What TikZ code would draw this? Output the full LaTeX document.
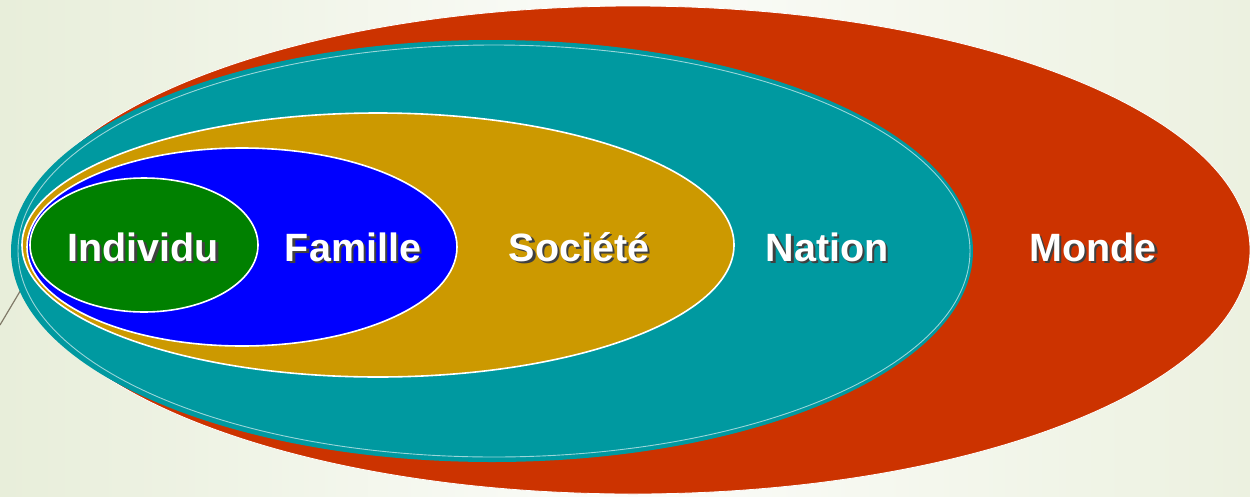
\documentclass[tikz,border=0pt]{standalone}
\usepackage{fontspec}
\setmainfont{Liberation Sans}
\definecolor{bgl}{RGB}{232,238,218}
\definecolor{bgr}{RGB}{236,241,224}
\definecolor{mondec}{RGB}{204,51,0}
\definecolor{nationc}{RGB}{0,153,160}
\definecolor{societec}{RGB}{204,153,0}
\definecolor{famillec}{RGB}{0,0,255}
\definecolor{individuc}{RGB}{0,128,0}
\definecolor{linec}{RGB}{128,122,104}
\newcommand\shtext[1]{\makebox[0pt][l]{\hspace{2.5pt}\raisebox{-2.5pt}{\textcolor{black!75}{#1}}}#1}
\begin{document}
\begin{tikzpicture}[x=1pt,y=-1pt,
  lbl/.style={font=\fontsize{39.5}{40}\selectfont\bfseries, text=white, inner sep=0pt, anchor=base},
  ring/.style={draw=white, line width=1.6pt}]
\useasboundingbox (0,0) rectangle (1250,496);
\shade[left color=bgl, right color=bgr, middle color=white!85!bgl] (0,0) rectangle (1250,496);
\coordinate (la) at (0,325);
\coordinate (lb) at (22,288);
\draw[linec, line width=1.2pt] (la) -- (lb);
% Monde
\fill[mondec, draw=white, line width=0.8pt] (633,250) ellipse [x radius=617, y radius=244];
% Nation
\fill[nationc] (492,251) ellipse [x radius=481, y radius=211];
\draw[white!60!nationc, line width=0.9pt] (494,251) ellipse [x radius=476, y radius=206];
% Societe
\fill[societec, ring] (378,245) ellipse [x radius=356, y radius=132];
% Famille
\fill[famillec, ring] (242,247) ellipse [x radius=215, y radius=99];
% Individu
\fill[individuc, ring] (144,245) ellipse [x radius=114, y radius=67];
% labels
\node[lbl] (individu) at (143,261) {\shtext{Individu}};
\node[lbl] (famille) at (353,261) {\shtext{Famille}};
\node[lbl] (societe) at (579,261) {\shtext{Société}};
\node[lbl] (nation) at (827,261) {\shtext{Nation}};
\node[lbl] (monde) at (1093,261) {\shtext{Monde}};
\end{tikzpicture}
\end{document}
